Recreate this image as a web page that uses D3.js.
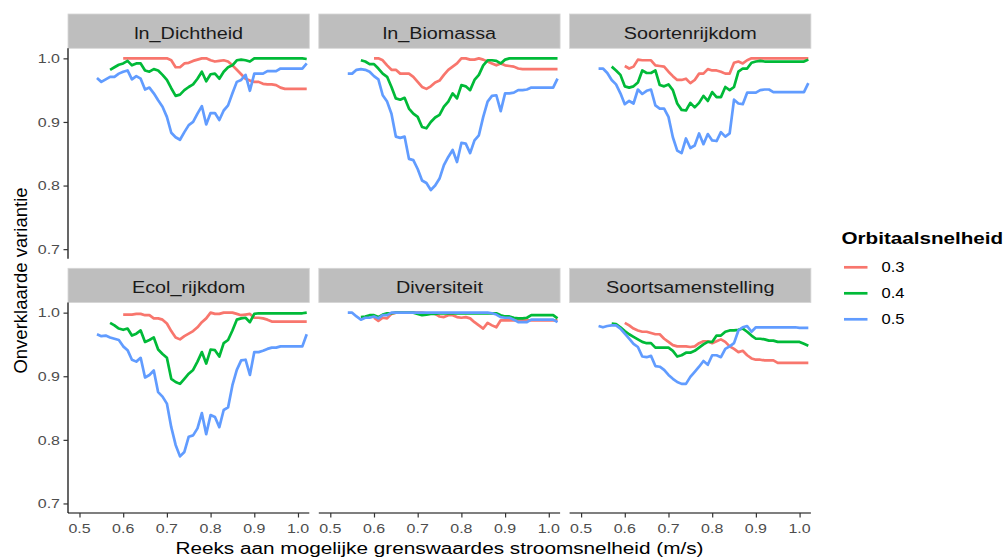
<!DOCTYPE html>
<html>
<head>
<meta charset="utf-8">
<script src="https://cdn.jsdelivr.net/npm/d3@7"></script>
<style>
  html, body { margin: 0; padding: 0; background: #ffffff; }
  svg { display: block; font-family: "Liberation Sans", Arial, sans-serif; }
</style>
</head>
<body>
<svg id="chart" width="1004" height="558"></svg>
<script>
// Threshold values of flow velocity (m/s) on the x axis
const stroomsnelheid = [0.54, 0.55, 0.56, 0.57, 0.58, 0.59, 0.60, 0.61, 0.62, 0.63,
  0.64, 0.65, 0.66, 0.67, 0.68, 0.69, 0.70, 0.71, 0.72, 0.73, 0.74, 0.75, 0.76, 0.77,
  0.78, 0.79, 0.80, 0.81, 0.82, 0.83, 0.84, 0.85, 0.86, 0.87, 0.88, 0.89, 0.90, 0.91,
  0.92, 0.93, 0.94, 0.95, 0.96, 0.97, 0.98, 0.99, 1.00, 1.01, 1.02];

const panelNames = ["ln_Dichtheid", "ln_Biomassa", "Soortenrijkdom",
                    "Ecol_rijkdom", "Diversiteit", "Soortsamenstelling"];
const orbitaal = ["0.3", "0.4", "0.5"];
const orbitaalColors = ["#F8766D", "#00BA38", "#619CFF"];
const xTicks = [0.5, 0.6, 0.7, 0.8, 0.9, 1.0];
const yTicks = [0.7, 0.8, 0.9, 1.0];

const _ = null;
// Unexplained variance per response variable and orbital velocity
const dichtheid03 = [_, _, _, _, _, _,
  1.0, 1.0, 1.0, 1.0, 1.0, 1.0, 1.0, 1.0, 1.0, 1.0,
  1.0, 0.997, 0.986, 0.986, 0.992, 0.993, 0.996, 0.998, 1.0, 1.0,
  0.997, 0.995, 0.996, 0.997, 0.995, 0.989, 0.982, 0.975, 0.968, 0.965,
  0.963, 0.963, 0.96, 0.959, 0.959, 0.958, 0.954, 0.952, 0.952, 0.952, 0.952, 0.952, 0.952];
const dichtheid04 = [_, _, _,
  0.982, 0.986, 0.99,
  0.992, 0.996, 0.989, 0.992, 0.992, 0.981, 0.979, 0.983, 0.981, 0.974,
  0.966, 0.953, 0.941, 0.943, 0.95, 0.955, 0.959, 0.968, 0.979, 0.964,
  0.975, 0.976, 0.968, 0.979, 0.986, 0.989, 0.997, 0.998, 0.997, 0.995,
  1.0, 1.0, 1.0, 1.0, 1.0, 1.0, 1.0, 1.0, 1.0, 1.0, 1.0, 1.0, 0.999];
const dichtheid05 = [0.969, 0.963, 0.967, 0.971, 0.971, 0.976,
  0.979, 0.981, 0.967, 0.972, 0.968, 0.951, 0.954, 0.945, 0.934, 0.924,
  0.908, 0.883, 0.876, 0.872, 0.884, 0.895, 0.9, 0.913, 0.925, 0.896,
  0.914, 0.914, 0.903, 0.918, 0.926, 0.945, 0.963, 0.966, 0.974, 0.949,
  0.976, 0.976, 0.976, 0.98, 0.98, 0.98, 0.984, 0.984, 0.984, 0.984, 0.984, 0.984, 0.992];

const biomassa03 = [_, _, _, _, _, _,
  1.0, 1.0, 0.997, 0.989, 0.982, 0.982, 0.976, 0.976, 0.976, 0.971,
  0.963, 0.955, 0.952, 0.956, 0.962, 0.965, 0.974, 0.982, 0.987, 0.992,
  1.0, 1.0, 0.998, 0.998, 1.0, 0.998, 0.995, 0.992, 0.989, 0.992,
  0.989, 0.988, 0.987, 0.984, 0.983, 0.983, 0.983, 0.983, 0.983, 0.983, 0.983, 0.983, 0.983];
const biomassa04 = [_, _, _,
  0.997, 0.995, 0.991,
  0.991, 0.984, 0.976, 0.971, 0.955, 0.937, 0.935, 0.938, 0.921, 0.913,
  0.908, 0.892, 0.89, 0.9, 0.907, 0.911, 0.924, 0.932, 0.945, 0.937,
  0.958, 0.956, 0.95, 0.966, 0.974, 0.989, 0.997, 0.997, 0.996, 0.992,
  0.998, 1.0, 1.0, 1.0, 1.0, 1.0, 1.0, 1.0, 1.0, 1.0, 1.0, 1.0, 1.0];
const biomassa05 = [0.976, 0.976, 0.982, 0.983, 0.982, 0.979,
  0.972, 0.967, 0.942, 0.932, 0.913, 0.877, 0.875, 0.877, 0.842, 0.84,
  0.826, 0.808, 0.804, 0.793, 0.8, 0.811, 0.832, 0.845, 0.856, 0.837,
  0.867, 0.866, 0.851, 0.871, 0.879, 0.908, 0.932, 0.941, 0.942, 0.917,
  0.945, 0.945, 0.946, 0.95, 0.95, 0.951, 0.954, 0.954, 0.954, 0.954, 0.954, 0.954, 0.968];

const soorten03 = [_, _, _, _, _, _,
  0.988, 0.984, 0.987, 0.998, 0.997, 0.997, 0.997, 0.989, 0.988, 0.987,
  0.979, 0.972, 0.966, 0.966, 0.968, 0.961, 0.966, 0.976, 0.976, 0.983,
  0.981, 0.981, 0.979, 0.976, 0.976, 0.993, 0.995, 0.992, 0.997, 1.0,
  1.0, 1.0, 1.0, 1.0, 1.0, 1.0, 1.0, 1.0, 1.0, 1.0, 1.0, 1.0, 1.0];
const soorten04 = [_, _, _,
  0.987, 0.981, 0.974,
  0.956, 0.954, 0.956, 0.962, 0.981, 0.977, 0.977, 0.981, 0.958, 0.956,
  0.959, 0.95, 0.929, 0.919, 0.918, 0.93, 0.923, 0.93, 0.941, 0.933,
  0.947, 0.939, 0.939, 0.955, 0.95, 0.955, 0.979, 0.984, 0.984, 0.993,
  0.995, 0.996, 0.995, 0.995, 0.995, 0.995, 0.995, 0.995, 0.995, 0.995, 0.995, 0.995, 0.998];
const soorten05 = [0.984, 0.984, 0.977, 0.966, 0.959, 0.945,
  0.928, 0.933, 0.929, 0.951, 0.944, 0.949, 0.951, 0.926, 0.921, 0.921,
  0.908, 0.876, 0.855, 0.851, 0.874, 0.859, 0.863, 0.882, 0.865, 0.881,
  0.871, 0.87, 0.884, 0.877, 0.882, 0.935, 0.929, 0.928, 0.946, 0.946,
  0.946, 0.95, 0.951, 0.951, 0.947, 0.947, 0.947, 0.947, 0.947, 0.947, 0.947, 0.947, 0.961];

const ecol03 = [_, _, _, _, _, _,
  0.997, 0.997, 0.997, 0.998, 0.998, 0.996, 0.996, 0.991, 0.991, 0.989,
  0.983, 0.971, 0.961, 0.958, 0.963, 0.967, 0.971, 0.977, 0.985, 0.991,
  1.0, 0.998, 0.998, 1.0, 1.0, 1.0, 0.998, 0.996, 0.997, 0.998,
  0.992, 0.992, 0.991, 0.989, 0.986, 0.986, 0.986, 0.986, 0.986, 0.986, 0.986, 0.986, 0.986];
const ecol04 = [_, _, _,
  0.984, 0.98, 0.975,
  0.973, 0.975, 0.964, 0.967, 0.972, 0.954, 0.957, 0.961, 0.942, 0.935,
  0.929, 0.896, 0.891, 0.888, 0.896, 0.904, 0.91, 0.923, 0.938, 0.92,
  0.942, 0.941, 0.931, 0.952, 0.957, 0.972, 0.989, 0.991, 0.992, 0.985,
  0.998, 0.999, 0.999, 0.999, 0.999, 0.999, 0.999, 0.999, 0.999, 0.999, 0.999, 0.999, 1.0];
const ecol05 = [0.966, 0.963, 0.964, 0.961, 0.959, 0.957,
  0.947, 0.941, 0.926, 0.923, 0.929, 0.898, 0.902, 0.909, 0.875, 0.868,
  0.857, 0.82, 0.792, 0.774, 0.781, 0.805, 0.807, 0.818, 0.842, 0.809,
  0.839, 0.836, 0.82, 0.847, 0.851, 0.886, 0.91, 0.925, 0.926, 0.902,
  0.938, 0.938, 0.94, 0.943, 0.945, 0.945, 0.947, 0.947, 0.947, 0.947, 0.947, 0.947, 0.966];

const diversiteit03 = [_, _, _, _, _, _,
  0.992, 0.987, 0.992, 0.991, 0.998, 1.0, 1.0, 1.0, 1.0, 1.0,
  1.0, 1.0, 0.999, 0.999, 0.998, 0.994, 0.993, 0.996, 0.996, 0.993,
  0.992, 0.993, 0.991, 0.985, 0.98, 0.975, 0.984, 0.98, 0.977, 0.988,
  0.988, 0.988, 0.988, 0.988, 0.988, 0.988, 0.988, 0.988, 0.988, 0.988, 0.988, 0.988, 0.988];
const diversiteit04 = [_, _, _,
  0.993, 0.994, 0.996,
  0.996, 0.993, 0.997, 0.999, 0.999, 1.0, 1.0, 1.0, 1.0, 1.0,
  0.998, 0.996, 0.997, 0.998, 0.998, 0.999, 0.999, 0.999, 0.999, 0.999,
  0.999, 0.999, 0.999, 0.999, 0.999, 0.999, 0.999, 0.999, 0.999, 0.996,
  0.994, 0.994, 0.992, 0.991, 0.991, 0.992, 0.996, 0.996, 0.996, 0.996, 0.996, 0.996, 0.991];
const diversiteit05 = [1.0, 1.0, 0.994, 0.989, 0.992, 0.992,
  0.994, 0.991, 0.996, 0.996, 1.0, 1.0, 1.0, 1.0, 1.0, 1.0,
  1.0, 1.0, 1.0, 1.0, 1.0, 1.0, 1.0, 1.0, 1.0, 1.0,
  1.0, 1.0, 1.0, 1.0, 1.0, 1.0, 1.0, 0.999, 0.997, 0.993,
  0.992, 0.992, 0.989, 0.985, 0.985, 0.985, 0.989, 0.989, 0.989, 0.989, 0.989, 0.989, 0.985];

const samenstelling03 = [_, _, _, _, _, _,
  0.984, 0.98, 0.975, 0.972, 0.97, 0.97, 0.968, 0.966, 0.966, 0.959,
  0.954, 0.949, 0.947, 0.947, 0.947, 0.946, 0.947, 0.952, 0.955, 0.955,
  0.952, 0.955, 0.958, 0.954, 0.947, 0.943, 0.938, 0.94, 0.933, 0.928,
  0.926, 0.926, 0.925, 0.925, 0.925, 0.921, 0.921, 0.921, 0.921, 0.921, 0.921, 0.921, 0.921];
const samenstelling04 = [_, _, _,
  0.983, 0.982, 0.977,
  0.971, 0.966, 0.962, 0.958, 0.954, 0.952, 0.952, 0.945, 0.945, 0.945,
  0.945, 0.94, 0.931, 0.933, 0.937, 0.937, 0.94, 0.945, 0.95, 0.954,
  0.954, 0.964, 0.964, 0.97, 0.972, 0.972, 0.973, 0.975, 0.97, 0.964,
  0.959, 0.959, 0.958, 0.956, 0.956, 0.954, 0.954, 0.954, 0.954, 0.954, 0.954, 0.951, 0.948];
const samenstelling05 = [0.979, 0.977, 0.979, 0.98, 0.98, 0.975,
  0.967, 0.959, 0.951, 0.946, 0.931, 0.93, 0.932, 0.916, 0.915, 0.91,
  0.902, 0.896, 0.891, 0.888, 0.888, 0.899, 0.907, 0.915, 0.924, 0.918,
  0.933, 0.933, 0.93, 0.943, 0.947, 0.952, 0.972, 0.977, 0.979, 0.97,
  0.977, 0.977, 0.977, 0.977, 0.977, 0.977, 0.977, 0.977, 0.977, 0.977, 0.976, 0.976, 0.976];

// Series per facet, in the order 0.3, 0.4, 0.5
const panelSeries = [
  [dichtheid03, dichtheid04, dichtheid05],
  [biomassa03, biomassa04, biomassa05],
  [soorten03, soorten04, soorten05],
  [ecol03, ecol04, ecol05],
  [diversiteit03, diversiteit04, diversiteit05],
  [samenstelling03, samenstelling04, samenstelling05]
];

// ---- layout ----
const svg = d3.select("#chart");
const textStretch = 1.2;          // glyphs are drawn slightly wide
const panelLeft = [68, 318.8, 569.6];
const panelW = 241.3;
const stripTop = [14, 268.3];
const stripH = 34.3;
const plotH = 210.4;
const tickColor = "#4D4D4D";

const x = d3.scaleLinear().domain([0.4737, 1.0259]).range([0, panelW]);
const y = d3.scaleLinear().domain([0.685, 1.0158]).range([plotH, 0]);

function stretchedText(sel, tx, ty, str, opts) {
  const sx = opts.stretch === undefined ? textStretch : opts.stretch;
  const t = sel.append("text")
    .attr("transform", `translate(${tx},${ty}) scale(${sx},1)` + (opts.rotate ? ` rotate(${opts.rotate})` : ""))
    .attr("text-anchor", opts.anchor || "start")
    .attr("font-size", opts.size)
    .attr("fill", opts.fill || "#000")
    .text(str);
  if (opts.weight) t.attr("font-weight", opts.weight);
  if (opts.dy) t.attr("dy", opts.dy);
  return t;
}

const line = d3.line()
  .defined(d => d[1] !== null)
  .x(d => x(d[0]))
  .y(d => y(d[1]));

panelNames.forEach((name, i) => {
  const col = i % 3, row = Math.floor(i / 3);
  const left = panelLeft[col];
  const sTop = stripTop[row];
  const pTop = sTop + stripH;

  // facet strip
  svg.append("rect")
    .attr("x", left).attr("y", sTop)
    .attr("width", panelW).attr("height", stripH)
    .attr("fill", "#BEBEBE")
    .attr("stroke", "#D6D6D6").attr("stroke-width", 0.8);
  stretchedText(svg, left + panelW / 2, sTop + 24.5, name,
    { anchor: "middle", size: 16.5, fill: "#1A1A1A" });

  const g = svg.append("g").attr("transform", `translate(${left},${pTop})`);

  // series lines
  panelSeries[i].forEach((vals, s) => {
    const pts = stroomsnelheid.map((v, k) => [v, vals[k]]);
    g.append("path")
      .datum(pts)
      .attr("fill", "none")
      .attr("stroke", orbitaalColors[s])
      .attr("stroke-width", 2.7)
      .attr("stroke-linejoin", "round")
      .attr("d", line);
  });

  // y axis on the left column
  if (col === 0) {
    const ya = g.append("g").call(d3.axisLeft(y).tickValues(yTicks).tickSize(4.5).tickFormat(d3.format(".1f")));
    ya.select(".domain").attr("stroke", "#000").attr("stroke-width", 1.2).attr("d", `M0,0V${plotH}`);
    ya.selectAll(".tick line").attr("stroke", "#333").attr("stroke-width", 1.2);
    ya.selectAll(".tick text").remove();
    yTicks.forEach(t => {
      stretchedText(g, -8, y(t), d3.format(".1f")(t),
        { anchor: "end", size: 13.3, fill: tickColor, dy: "0.36em" });
    });
  }

  // x axis on the bottom row
  if (row === 1) {
    const xa = g.append("g").attr("transform", `translate(0,${plotH})`)
      .call(d3.axisBottom(x).tickValues(xTicks).tickSize(4.5).tickFormat(d3.format(".1f")));
    xa.select(".domain").attr("stroke", "#000").attr("stroke-width", 1.2).attr("d", `M0,0H${panelW}`);
    xa.selectAll(".tick line").attr("stroke", "#333").attr("stroke-width", 1.2);
    xa.selectAll(".tick text").remove();
    xTicks.forEach(t => {
      stretchedText(g, x(t), plotH + 20, d3.format(".1f")(t),
        { anchor: "middle", size: 13.3, fill: tickColor });
    });
  }
});

// axis titles
stretchedText(svg, (panelLeft[0] + panelLeft[2] + panelW) / 2, 553.5,
  "Reeks aan mogelijke grenswaardes stroomsnelheid (m/s)", { anchor: "middle", size: 17.3 });
stretchedText(svg, 26.5, 280.5,
  "Onverklaarde variantie", { anchor: "middle", size: 18.5, rotate: -90, stretch: 1 });

// legend
const legendX = 841.5;
stretchedText(svg, legendX, 244, "Orbitaalsnelheid", { size: 17.2, weight: "bold" });
orbitaal.forEach((lab, k) => {
  const ly = 267.3 + k * 26;
  svg.append("line")
    .attr("x1", legendX + 2.5).attr("x2", legendX + 26)
    .attr("y1", ly).attr("y2", ly)
    .attr("stroke", orbitaalColors[k]).attr("stroke-width", 2.7);
  stretchedText(svg, legendX + 40, ly + 5, lab, { size: 13.8, fill: "#000" });
});
</script>
</body>
</html>
